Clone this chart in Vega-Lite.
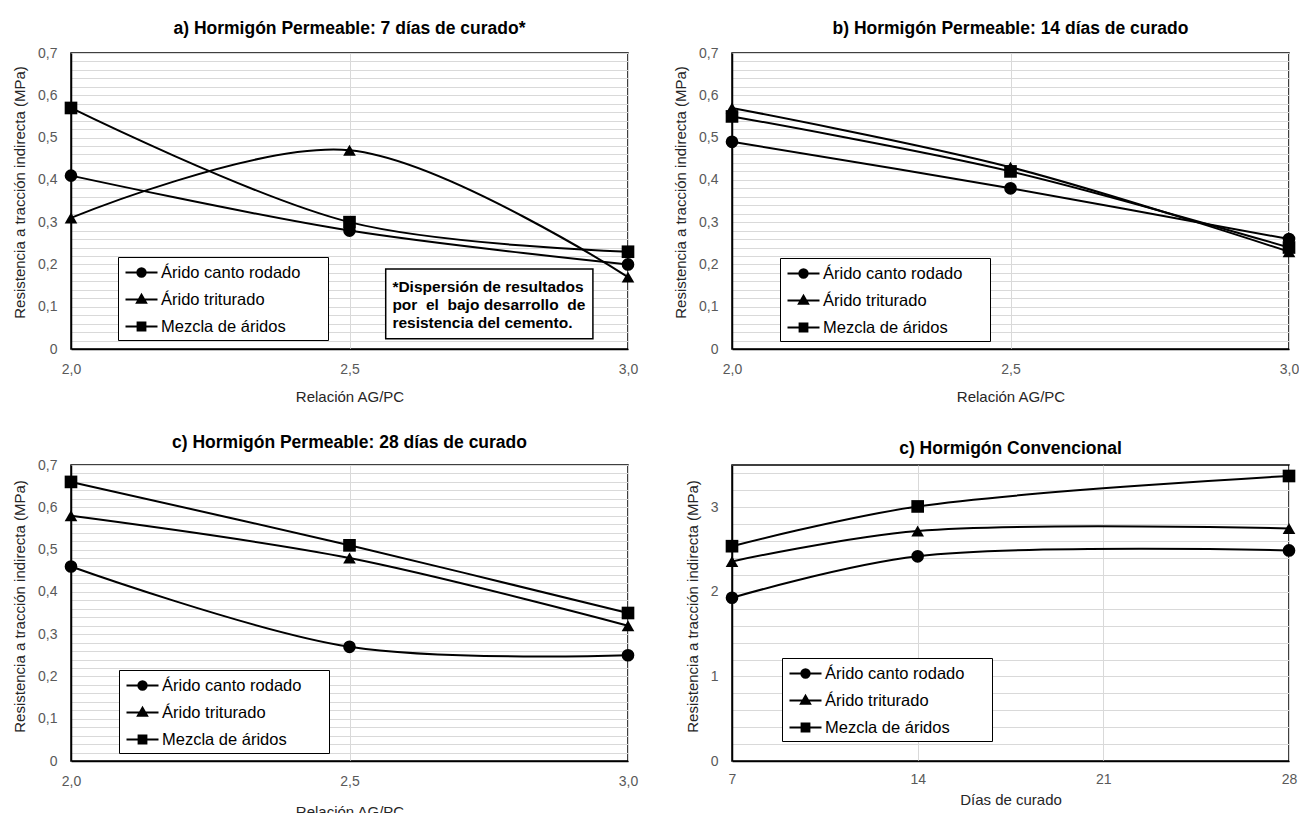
{
  "$schema": "https://vega.github.io/schema/vega-lite/v6.json",
  "padding": {"left": 11, "top": 18, "right": 0, "bottom": 0},
  "background": "white",
  "datasets": {
    "main": [
      {"panel": "a", "serie": "Árido canto rodado", "x": 2.0, "y": 0.41},
      {"panel": "a", "serie": "Árido canto rodado", "x": 2.5, "y": 0.28},
      {"panel": "a", "serie": "Árido canto rodado", "x": 3.0, "y": 0.20},
      {"panel": "a", "serie": "Árido triturado", "x": 2.0, "y": 0.31},
      {"panel": "a", "serie": "Árido triturado", "x": 2.5, "y": 0.47},
      {"panel": "a", "serie": "Árido triturado", "x": 3.0, "y": 0.17},
      {"panel": "a", "serie": "Mezcla de áridos", "x": 2.0, "y": 0.57},
      {"panel": "a", "serie": "Mezcla de áridos", "x": 2.5, "y": 0.30},
      {"panel": "a", "serie": "Mezcla de áridos", "x": 3.0, "y": 0.23},
      {"panel": "b", "serie": "Árido canto rodado", "x": 2.0, "y": 0.49},
      {"panel": "b", "serie": "Árido canto rodado", "x": 2.5, "y": 0.38},
      {"panel": "b", "serie": "Árido canto rodado", "x": 3.0, "y": 0.26},
      {"panel": "b", "serie": "Árido triturado", "x": 2.0, "y": 0.57},
      {"panel": "b", "serie": "Árido triturado", "x": 2.5, "y": 0.43},
      {"panel": "b", "serie": "Árido triturado", "x": 3.0, "y": 0.23},
      {"panel": "b", "serie": "Mezcla de áridos", "x": 2.0, "y": 0.55},
      {"panel": "b", "serie": "Mezcla de áridos", "x": 2.5, "y": 0.42},
      {"panel": "b", "serie": "Mezcla de áridos", "x": 3.0, "y": 0.24},
      {"panel": "c", "serie": "Árido canto rodado", "x": 2.0, "y": 0.46},
      {"panel": "c", "serie": "Árido canto rodado", "x": 2.5, "y": 0.27},
      {"panel": "c", "serie": "Árido canto rodado", "x": 3.0, "y": 0.25},
      {"panel": "c", "serie": "Árido triturado", "x": 2.0, "y": 0.58},
      {"panel": "c", "serie": "Árido triturado", "x": 2.5, "y": 0.48},
      {"panel": "c", "serie": "Árido triturado", "x": 3.0, "y": 0.32},
      {"panel": "c", "serie": "Mezcla de áridos", "x": 2.0, "y": 0.66},
      {"panel": "c", "serie": "Mezcla de áridos", "x": 2.5, "y": 0.51},
      {"panel": "c", "serie": "Mezcla de áridos", "x": 3.0, "y": 0.35},
      {"panel": "d", "serie": "Árido canto rodado", "x": 7, "y": 1.93},
      {"panel": "d", "serie": "Árido canto rodado", "x": 14, "y": 2.42},
      {"panel": "d", "serie": "Árido canto rodado", "x": 28, "y": 2.49},
      {"panel": "d", "serie": "Árido triturado", "x": 7, "y": 2.36},
      {"panel": "d", "serie": "Árido triturado", "x": 14, "y": 2.72},
      {"panel": "d", "serie": "Árido triturado", "x": 28, "y": 2.75},
      {"panel": "d", "serie": "Mezcla de áridos", "x": 7, "y": 2.54},
      {"panel": "d", "serie": "Mezcla de áridos", "x": 14, "y": 3.01},
      {"panel": "d", "serie": "Mezcla de áridos", "x": 28, "y": 3.37}
    ]
  },
  "columns": 2,
  "spacing": {"row": 116, "column": 104},
  "bounds": "flush",
  "concat": [
    {
      "width": 557,
      "height": 296,
      "title": {"text": "a) Hormigón Permeable: 7 días de curado*", "offset": 9},
      "encoding": {
        "x": {"field": "x", "type": "quantitative", "scale": {"domain": [2, 3], "nice": false, "zero": false},
          "axis": {"values": [2, 2.5, 3], "labelExpr": "replace(format(datum.value,'.1f'),'.',',')", "title": "Relación AG/PC", "titlePadding": 13}},
        "y": {"field": "y", "type": "quantitative", "scale": {"domain": [0, 0.7], "nice": false},
          "axis": {"values": [0,0.02,0.04,0.06,0.08,0.1,0.12,0.14,0.16,0.18,0.2,0.22,0.24,0.26,0.28,0.3,0.32,0.34,0.36,0.38,0.4,0.42,0.44,0.46,0.48,0.5,0.52,0.54,0.56,0.58,0.6,0.62,0.64,0.66,0.68,0.7],
            "labelExpr": "abs(datum.value*10 - round(datum.value*10)) < 0.001 ? (datum.value == 0 ? '0' : replace(format(datum.value, '.1f'), '.', ',')) : ''",
            "title": "Resistencia a tracción indirecta (MPa)", "titleY": 139}}
      },
      "layer": [
        {"data": {"name": "main"}, "transform": [{"filter": "datum.panel == 'a'"}],
          "mark": {"type": "line", "interpolate": "catmull-rom", "color": "black", "strokeWidth": 2},
          "encoding": {"detail": {"field": "serie"}}},
        {"data": {"name": "main"}, "transform": [{"filter": "datum.panel == 'a'"}],
          "mark": {"type": "point", "filled": true, "color": "black", "size": 160, "opacity": 1},
          "encoding": {"shape": {"field": "serie", "scale": {"domain": ["Árido canto rodado", "Árido triturado", "Mezcla de áridos"], "range": ["circle", "triangle-up", "square"]}, "legend": null}}},
        {"data": {"name": "main"}, "transform": [{"filter": "datum.panel == 'a'"}],
          "mark": {"type": "point", "filled": false, "color": "black", "fill": "black", "strokeWidth": 2, "opacity": 0},
          "encoding": {"shape": {"field": "serie", "scale": {"domain": ["Árido canto rodado", "Árido triturado", "Mezcla de áridos"], "range": ["M-1.6,0H1.6M0.42,0A0.42,0.42,0,0,1,0,0.42A0.42,0.42,0,0,1,-0.42,0A0.42,0.42,0,0,1,0,-0.42A0.42,0.42,0,0,1,0.42,0Z", "M-1.6,0H1.6M0,-0.48L0.46,0.32L-0.46,0.32Z", "M-1.6,0H1.6M-0.39,-0.39H0.39V0.39H-0.39Z"]},
            "legend": {"title": null, "legendX": 47, "legendY": 204, "labelExpr": "datum.label + '\u00a0\u00a0\u00a0\u00a0\u00a0\u200b'"}}}},
        {"data": {"values": [{"x": 2.565, "x2": 2.937, "y": 0.189, "y2": 0.024}]},
          "mark": {"type": "rect", "fill": "white", "stroke": "black", "strokeWidth": 1.5},
          "encoding": {"x2": {"field": "x2"}, "y2": {"field": "y2"}}},
        {"data": {"values": [
            {"x": 2.577, "y": 0.147, "t": "*Dispersión de resultados"},
            {"x": 2.577, "y": 0.104, "t": "por\u00a0 el\u00a0 bajo desarrollo\u00a0 de"},
            {"x": 2.577, "y": 0.061, "t": "resistencia del cemento."}
          ]},
          "mark": {"type": "text", "align": "left", "baseline": "middle", "fontWeight": "bold", "fontSize": 15.5, "color": "black", "font": "Liberation Sans"},
          "encoding": {"text": {"field": "t"}}}
      ],
      "resolve": {"scale": {"shape": "independent"}}
    },
    {
      "width": 557,
      "height": 296,
      "title": {"text": "b) Hormigón Permeable: 14 días de curado", "offset": 9},
      "encoding": {
        "x": {"field": "x", "type": "quantitative", "scale": {"domain": [2, 3], "nice": false, "zero": false},
          "axis": {"values": [2, 2.5, 3], "labelExpr": "replace(format(datum.value,'.1f'),'.',',')", "title": "Relación AG/PC", "titlePadding": 13}},
        "y": {"field": "y", "type": "quantitative", "scale": {"domain": [0, 0.7], "nice": false},
          "axis": {"values": [0,0.02,0.04,0.06,0.08,0.1,0.12,0.14,0.16,0.18,0.2,0.22,0.24,0.26,0.28,0.3,0.32,0.34,0.36,0.38,0.4,0.42,0.44,0.46,0.48,0.5,0.52,0.54,0.56,0.58,0.6,0.62,0.64,0.66,0.68,0.7],
            "labelExpr": "abs(datum.value*10 - round(datum.value*10)) < 0.001 ? (datum.value == 0 ? '0' : replace(format(datum.value, '.1f'), '.', ',')) : ''",
            "title": "Resistencia a tracción indirecta (MPa)", "titleY": 139}}
      },
      "layer": [
        {"data": {"name": "main"}, "transform": [{"filter": "datum.panel == 'b'"}],
          "mark": {"type": "line", "interpolate": "catmull-rom", "color": "black", "strokeWidth": 2},
          "encoding": {"detail": {"field": "serie"}}},
        {"data": {"name": "main"}, "transform": [{"filter": "datum.panel == 'b'"}],
          "mark": {"type": "point", "filled": true, "color": "black", "size": 160, "opacity": 1},
          "encoding": {"shape": {"field": "serie", "scale": {"domain": ["Árido canto rodado", "Árido triturado", "Mezcla de áridos"], "range": ["circle", "triangle-up", "square"]}, "legend": null}}},
        {"data": {"name": "main"}, "transform": [{"filter": "datum.panel == 'b'"}],
          "mark": {"type": "point", "filled": false, "color": "black", "fill": "black", "strokeWidth": 2, "opacity": 0},
          "encoding": {"shape": {"field": "serie", "scale": {"domain": ["Árido canto rodado", "Árido triturado", "Mezcla de áridos"], "range": ["M-1.6,0H1.6M0.42,0A0.42,0.42,0,0,1,0,0.42A0.42,0.42,0,0,1,-0.42,0A0.42,0.42,0,0,1,0,-0.42A0.42,0.42,0,0,1,0.42,0Z", "M-1.6,0H1.6M0,-0.48L0.46,0.32L-0.46,0.32Z", "M-1.6,0H1.6M-0.39,-0.39H0.39V0.39H-0.39Z"]},
            "legend": {"title": null, "legendX": 48, "legendY": 205, "labelExpr": "datum.label + '\u00a0\u00a0\u00a0\u00a0\u00a0\u200b'"}}}}
      ],
      "resolve": {"scale": {"shape": "independent"}}
    },
    {
      "width": 557,
      "height": 296,
      "title": {"text": "c) Hormigón Permeable: 28 días de curado", "offset": 7},
      "encoding": {
        "x": {"field": "x", "type": "quantitative", "scale": {"domain": [2, 3], "nice": false, "zero": false},
          "axis": {"values": [2, 2.5, 3], "labelExpr": "replace(format(datum.value,'.1f'),'.',',')", "title": "Relación AG/PC", "titlePadding": 16}},
        "y": {"field": "y", "type": "quantitative", "scale": {"domain": [0, 0.7], "nice": false},
          "axis": {"values": [0,0.02,0.04,0.06,0.08,0.1,0.12,0.14,0.16,0.18,0.2,0.22,0.24,0.26,0.28,0.3,0.32,0.34,0.36,0.38,0.4,0.42,0.44,0.46,0.48,0.5,0.52,0.54,0.56,0.58,0.6,0.62,0.64,0.66,0.68,0.7],
            "labelExpr": "abs(datum.value*10 - round(datum.value*10)) < 0.001 ? (datum.value == 0 ? '0' : replace(format(datum.value, '.1f'), '.', ',')) : ''",
            "title": "Resistencia a tracción indirecta (MPa)", "titleY": 141}}
      },
      "layer": [
        {"data": {"name": "main"}, "transform": [{"filter": "datum.panel == 'c'"}],
          "mark": {"type": "line", "interpolate": "catmull-rom", "color": "black", "strokeWidth": 2},
          "encoding": {"detail": {"field": "serie"}}},
        {"data": {"name": "main"}, "transform": [{"filter": "datum.panel == 'c'"}],
          "mark": {"type": "point", "filled": true, "color": "black", "size": 160, "opacity": 1},
          "encoding": {"shape": {"field": "serie", "scale": {"domain": ["Árido canto rodado", "Árido triturado", "Mezcla de áridos"], "range": ["circle", "triangle-up", "square"]}, "legend": null}}},
        {"data": {"name": "main"}, "transform": [{"filter": "datum.panel == 'c'"}],
          "mark": {"type": "point", "filled": false, "color": "black", "fill": "black", "strokeWidth": 2, "opacity": 0},
          "encoding": {"shape": {"field": "serie", "scale": {"domain": ["Árido canto rodado", "Árido triturado", "Mezcla de áridos"], "range": ["M-1.6,0H1.6M0.42,0A0.42,0.42,0,0,1,0,0.42A0.42,0.42,0,0,1,-0.42,0A0.42,0.42,0,0,1,0,-0.42A0.42,0.42,0,0,1,0.42,0Z", "M-1.6,0H1.6M0,-0.48L0.46,0.32L-0.46,0.32Z", "M-1.6,0H1.6M-0.39,-0.39H0.39V0.39H-0.39Z"]},
            "legend": {"title": null, "legendX": 48, "legendY": 205, "labelExpr": "datum.label + '\u00a0\u00a0\u00a0\u00a0\u00a0\u200b'"}}}}
      ],
      "resolve": {"scale": {"shape": "independent"}}
    },
    {
      "width": 557,
      "height": 296,
      "title": {"text": "c) Hormigón Convencional", "offset": 8},
      "encoding": {
        "x": {"field": "x", "type": "quantitative", "scale": {"domain": [7, 28], "nice": false, "zero": false},
          "axis": {"values": [7, 14, 21, 28], "format": "d", "title": "Días de curado", "titlePadding": 6, "labelPadding": 11}},
        "y": {"field": "y", "type": "quantitative", "scale": {"domain": [0, 3.5], "nice": false},
          "axis": {"values": [0,0.2,0.4,0.6,0.8,1,1.2,1.4,1.6,1.8,2,2.2,2.4,2.6,2.8,3,3.2,3.4],
            "labelExpr": "abs(datum.value - round(datum.value)) < 0.001 ? format(datum.value, 'd') : ''",
            "title": "Resistencia a tracción indirecta (MPa)", "titleY": 141}}
      },
      "layer": [
        {"data": {"name": "main"}, "transform": [{"filter": "datum.panel == 'd'"}],
          "mark": {"type": "line", "interpolate": "catmull-rom", "color": "black", "strokeWidth": 2},
          "encoding": {"detail": {"field": "serie"}}},
        {"data": {"name": "main"}, "transform": [{"filter": "datum.panel == 'd'"}],
          "mark": {"type": "point", "filled": true, "color": "black", "size": 160, "opacity": 1},
          "encoding": {"shape": {"field": "serie", "scale": {"domain": ["Árido canto rodado", "Árido triturado", "Mezcla de áridos"], "range": ["circle", "triangle-up", "square"]}, "legend": null}}},
        {"data": {"name": "main"}, "transform": [{"filter": "datum.panel == 'd'"}],
          "mark": {"type": "point", "filled": false, "color": "black", "fill": "black", "strokeWidth": 2, "opacity": 0},
          "encoding": {"shape": {"field": "serie", "scale": {"domain": ["Árido canto rodado", "Árido triturado", "Mezcla de áridos"], "range": ["M-1.6,0H1.6M0.42,0A0.42,0.42,0,0,1,0,0.42A0.42,0.42,0,0,1,-0.42,0A0.42,0.42,0,0,1,0,-0.42A0.42,0.42,0,0,1,0.42,0Z", "M-1.6,0H1.6M0,-0.48L0.46,0.32L-0.46,0.32Z", "M-1.6,0H1.6M-0.39,-0.39H0.39V0.39H-0.39Z"]},
            "legend": {"title": null, "legendX": 50, "legendY": 193, "labelExpr": "datum.label + '\u00a0\u00a0\u00a0\u00a0\u00a0\u200b'"}}}}
      ],
      "resolve": {"scale": {"shape": "independent"}}
    }
  ],
  "config": {
    "font": "Liberation Sans",
    "view": {"stroke": "black", "strokeWidth": 1.5},
    "axis": {"domainColor": "black", "domainWidth": 1.5, "ticks": false, "tickSize": 0, "grid": true, "gridColor": "#d9d9d9", "gridWidth": 1,
      "labelColor": "#595959", "labelFontSize": 14, "labelFont": "Liberation Sans", "titleFont": "Liberation Sans", "titleFontSize": 15,
      "titleFontWeight": "normal", "titleColor": "#262626", "labelOverlap": false, "labelFlush": false, "labelBound": false},
    "axisY": {"labelPadding": 14, "titlePadding": 10},
    "axisX": {"labelPadding": 13},
    "legend": {"orient": "none", "strokeColor": "black", "fillColor": "white", "padding": 4.5, "symbolSize": 400, "symbolStrokeWidth": 2,
      "symbolOpacity": 1, "labelFontSize": 16.5, "labelColor": "black",
      "labelFont": "Liberation Sans", "rowPadding": 7, "labelOffset": 8.5, "symbolOffset": 8, "labelLimit": 400},
    "title": {"font": "Liberation Sans", "fontSize": 17.5, "fontWeight": "bold", "color": "black", "anchor": "middle", "frame": "group"}
  }
}
